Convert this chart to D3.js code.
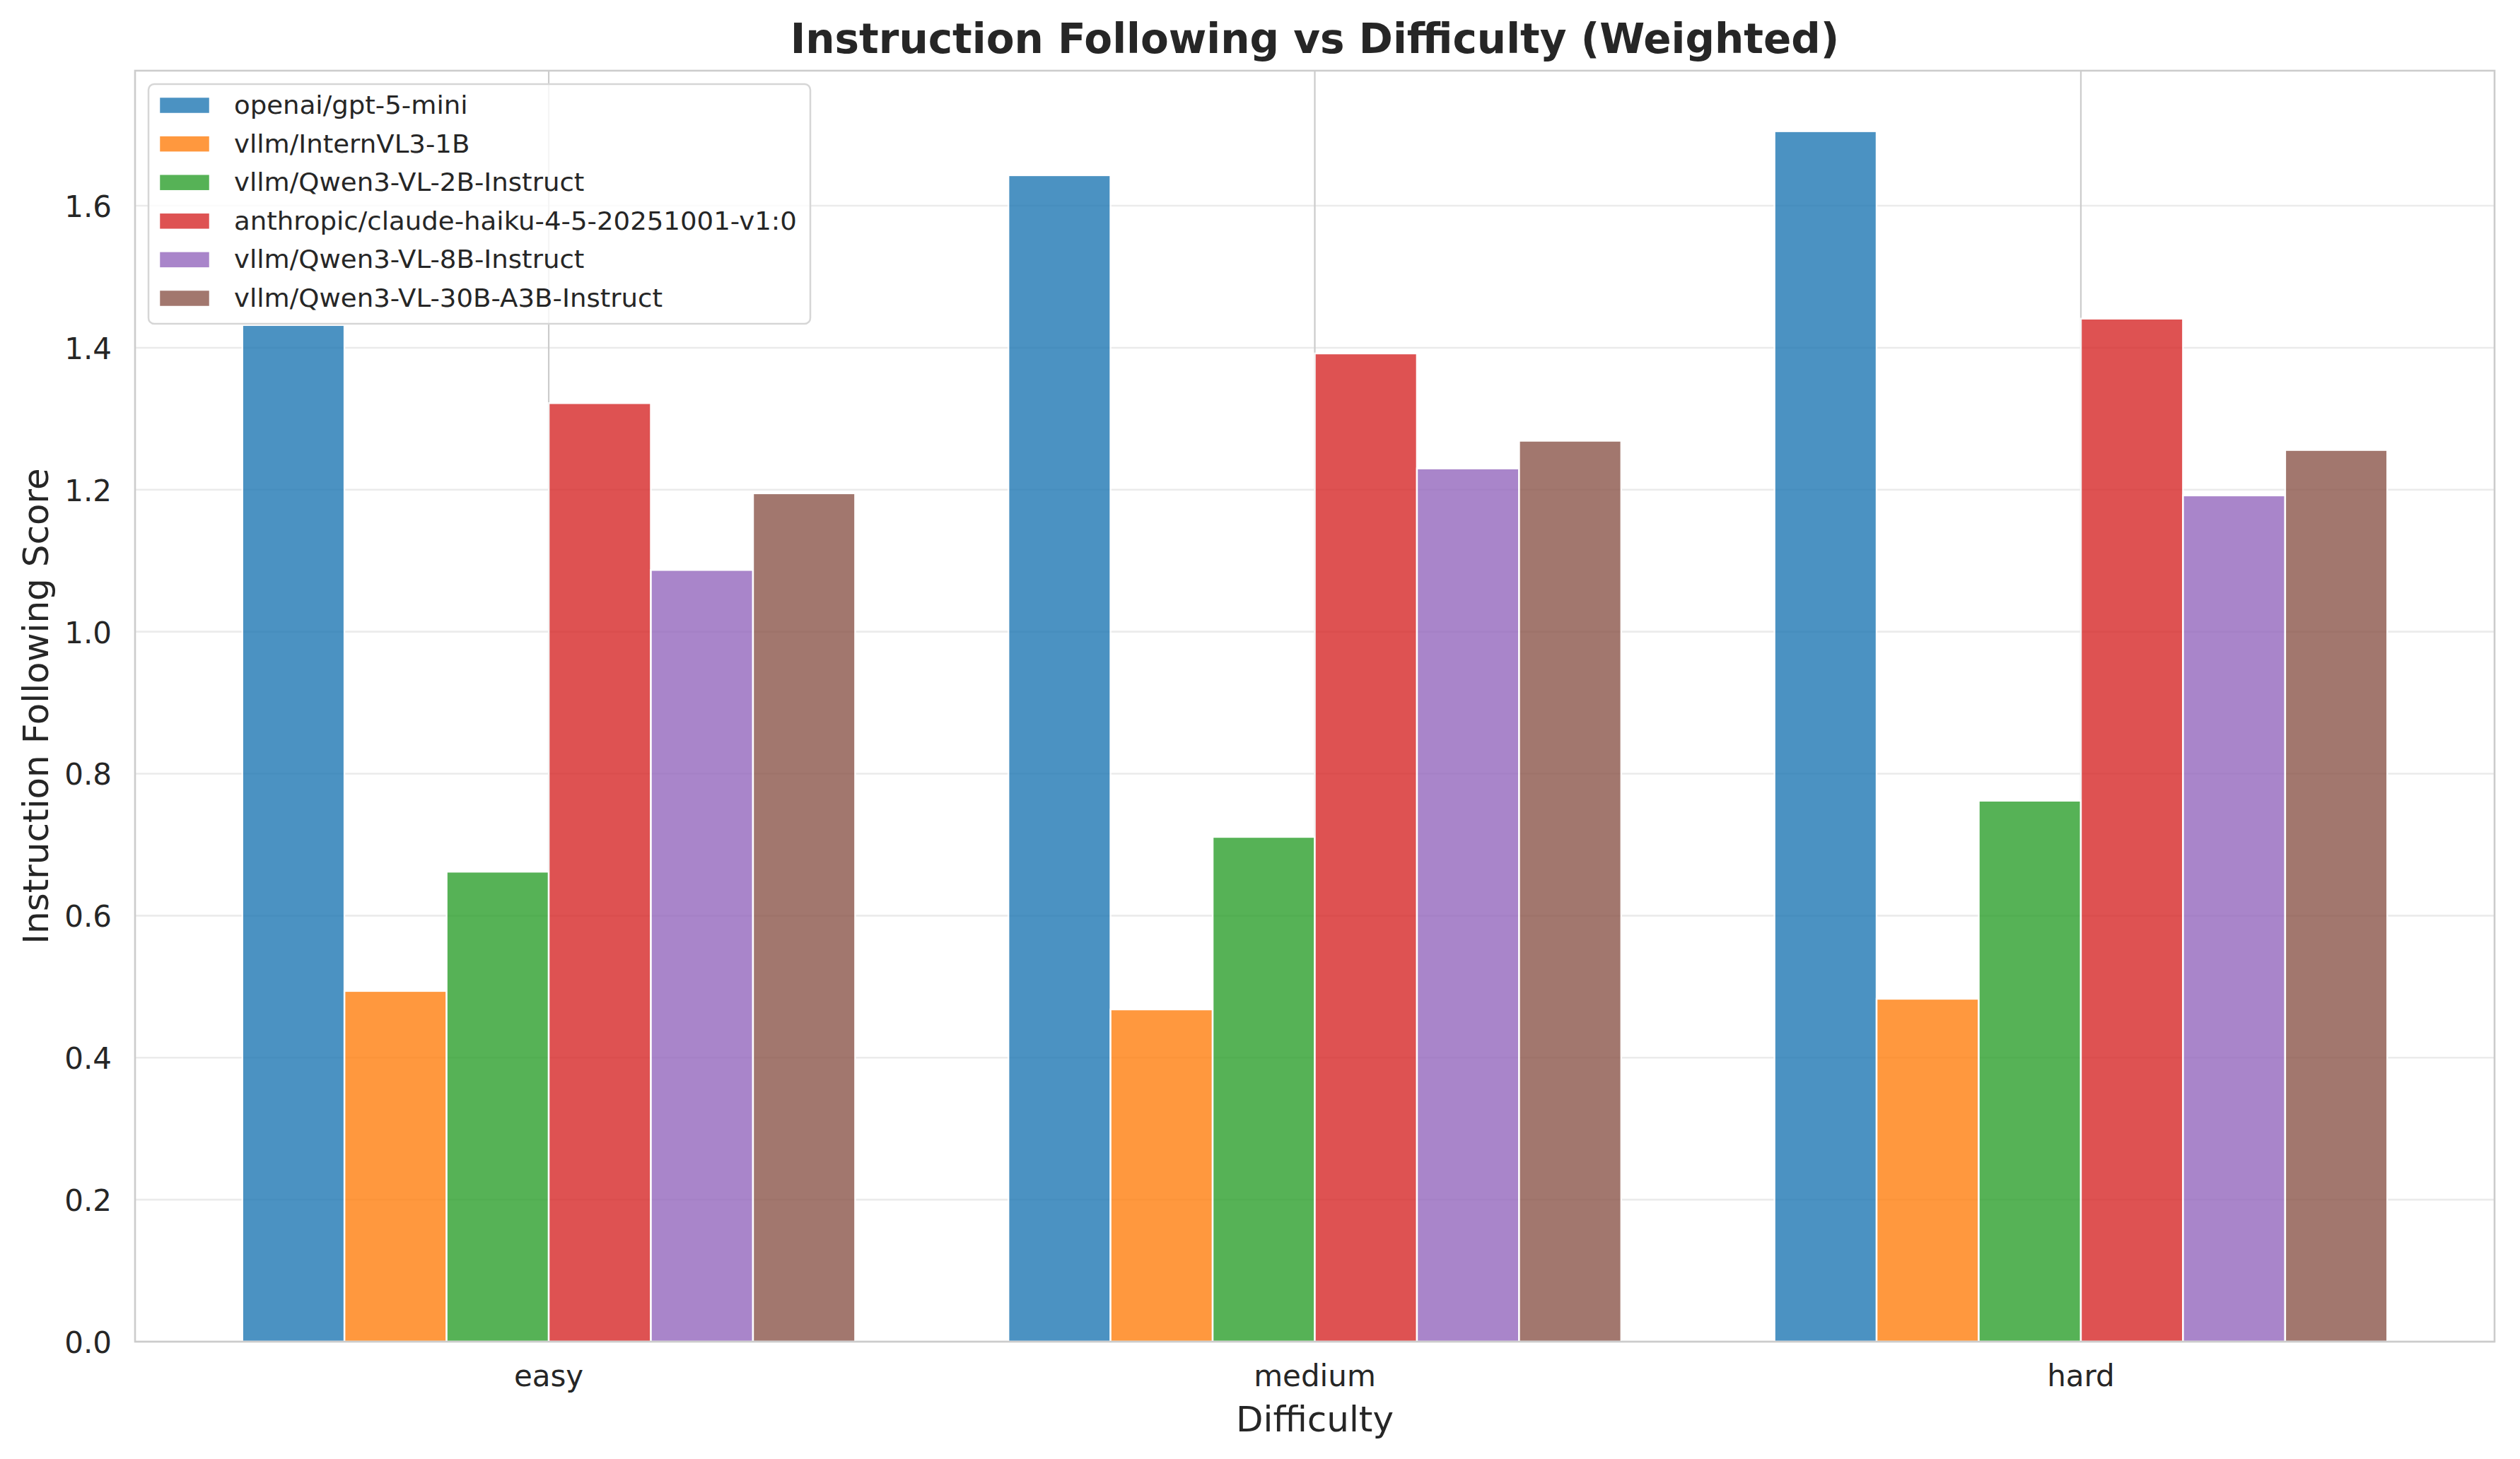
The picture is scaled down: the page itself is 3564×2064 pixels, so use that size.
<!DOCTYPE html>
<html>
<head>
<meta charset="utf-8">
<script src="https://cdn.jsdelivr.net/npm/d3@7"></script>
<style>
  html, body { margin: 0; padding: 0; background: #fff; }
  svg { display: block; font-family: "DejaVu Sans", sans-serif; }
</style>
</head>
<body>
<svg id="chart" width="3564" height="2064"></svg>
<script>
// ---- data ----
const categories = ["easy", "medium", "hard"];
const seriesNames = [
  "openai/gpt-5-mini",
  "vllm/InternVL3-1B",
  "vllm/Qwen3-VL-2B-Instruct",
  "anthropic/claude-haiku-4-5-20251001-v1:0",
  "vllm/Qwen3-VL-8B-Instruct",
  "vllm/Qwen3-VL-30B-A3B-Instruct"
];
const gpt5mini      = [1.432, 1.643, 1.705];
const internVL3_1B  = [0.494, 0.468, 0.483];
const qwen3VL_2B    = [0.662, 0.711, 0.762];
const claudeHaiku   = [1.322, 1.392, 1.441];
const qwen3VL_8B    = [1.087, 1.230, 1.192];
const qwen3VL_30B   = [1.195, 1.269, 1.256];
const seriesValues = [gpt5mini, internVL3_1B, qwen3VL_2B, claudeHaiku, qwen3VL_8B, qwen3VL_30B];
const seriesColors = ["#1f77b4", "#ff7f0e", "#2ca02c", "#d62728", "#9467bd", "#8c564b"];
const yTicks = [0.0, 0.2, 0.4, 0.6, 0.8, 1.0, 1.2, 1.4, 1.6];
const titleText = "Instruction Following vs Difficulty (Weighted)";
const xLabelText = "Difficulty";
const yLabelText = "Instruction Following Score";

// ---- layout ----
const L = 191, R = 3528, T = 100, B = 1898;
const textColor = "#262626";
const svg = d3.select("#chart");

const allVals = seriesValues.flat();
const y = d3.scaleLinear().domain([0, d3.max(allVals) * 1.05]).range([B, T]);
const xCat = d3.scaleBand().domain(categories).range([L, R]).paddingInner(0.2).paddingOuter(0.14);
const xSub = d3.scaleBand().domain(seriesNames).range([0, xCat.bandwidth()]).padding(0);

// horizontal grid
svg.append("g").selectAll("line").data(yTicks).join("line")
  .attr("x1", L).attr("x2", R)
  .attr("y1", d => y(d)).attr("y2", d => y(d))
  .attr("stroke", "#ebebeb").attr("stroke-width", 2.6);

// vertical grid
svg.append("g").selectAll("line").data(categories).join("line")
  .attr("x1", d => xCat(d) + xCat.bandwidth() / 2).attr("x2", d => xCat(d) + xCat.bandwidth() / 2)
  .attr("y1", T).attr("y2", B)
  .attr("stroke", "#cccccc").attr("stroke-width", 2.2);

// bars
const barData = [];
seriesNames.forEach((s, i) => {
  categories.forEach((c, j) => {
    barData.push({ s, c, v: seriesValues[i][j], color: seriesColors[i] });
  });
});
svg.append("g").selectAll("rect").data(barData).join("rect")
  .attr("x", d => xCat(d.c) + xSub(d.s))
  .attr("y", d => y(d.v))
  .attr("width", xSub.bandwidth())
  .attr("height", d => y(0) - y(d.v))
  .attr("fill", d => d.color)
  .attr("stroke", "#ffffff")
  .attr("stroke-width", 2.5)
  .attr("opacity", 0.8);

// spines
svg.append("rect")
  .attr("x", L).attr("y", T).attr("width", R - L).attr("height", B - T)
  .attr("fill", "none").attr("stroke", "#cccccc").attr("stroke-width", 2.6);

// y axis ticks (labels only)
const yAxis = d3.axisLeft(y).tickValues(yTicks).tickFormat(d3.format(".1f")).tickSize(0).tickPadding(33);
const gy = svg.append("g").attr("transform", `translate(${L},0)`).call(yAxis);
gy.select(".domain").remove();
gy.selectAll("text")
  .attr("font-size", 42).attr("fill", textColor)
  .attr("font-family", "DejaVu Sans").attr("dy", "0.365em");

// x axis ticks
const xAxis = d3.axisBottom(xCat).tickSize(0).tickPadding(0);
const gx = svg.append("g").attr("transform", `translate(0,${B})`).call(xAxis);
gx.select(".domain").remove();
gx.selectAll("text")
  .attr("font-size", 42).attr("fill", textColor)
  .attr("font-family", "DejaVu Sans")
  .attr("y", 63).attr("dy", 0);

// title
svg.append("text")
  .attr("x", (L + R) / 2).attr("y", 75)
  .attr("text-anchor", "middle")
  .attr("font-size", 58).attr("font-weight", "bold").attr("fill", textColor)
  .text(titleText);

// x label
svg.append("text")
  .attr("x", (L + R) / 2).attr("y", 2025)
  .attr("text-anchor", "middle")
  .attr("font-size", 50).attr("fill", textColor)
  .text(xLabelText);

// y label
svg.append("text")
  .attr("transform", `translate(68,${(T + B) / 2}) rotate(-90)`)
  .attr("text-anchor", "middle")
  .attr("font-size", 50).attr("fill", textColor)
  .text(yLabelText);

// legend
const lg = svg.append("g");
lg.append("rect")
  .attr("x", 210).attr("y", 119).attr("width", 936).attr("height", 339)
  .attr("rx", 8).attr("ry", 8)
  .attr("fill", "#ffffff").attr("fill-opacity", 0.8)
  .attr("stroke", "#d6d6d6").attr("stroke-width", 2.5);
const rowY = d3.scaleLinear().domain([0, seriesNames.length - 1]).range([149, 422]);
const items = lg.selectAll("g.item").data(seriesNames).join("g").attr("class", "item");
items.append("rect")
  .attr("x", 225).attr("y", (d, i) => rowY(i) - 12)
  .attr("width", 72).attr("height", 24)
  .attr("fill", (d, i) => seriesColors[i])
  .attr("stroke", "#ffffff").attr("stroke-width", 2.5)
  .attr("opacity", 0.8);
items.append("text")
  .attr("transform", (d, i) => `translate(331,${rowY(i) + 12}) scale(1.07,1)`)
  .attr("font-size", 34.7).attr("fill", textColor)
  .text(d => d);
</script>
</body>
</html>
